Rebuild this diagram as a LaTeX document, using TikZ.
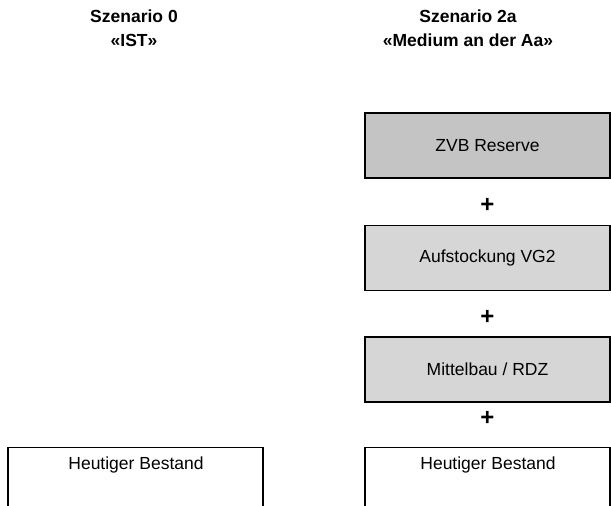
\documentclass[tikz,border=0pt]{standalone}
\usepackage{fontspec}
\setmainfont{Liberation Sans}
\usetikzlibrary{positioning}

\tikzset{
    bau/.style={draw, line width=1.1pt, minimum width=245pt, minimum height=65pt,
        inner sep=0pt, font=\fontsize{17.5}{20}\selectfont},
    bautext/.style={font=\fontsize{17.5}{20}\selectfont, anchor=base},
    titel/.style={anchor=base, font=\fontsize{17.5}{21}\selectfont\bfseries},
    plus/.style={font=\fontsize{24}{26}\selectfont\bfseries, inner sep=0pt}
}

\begin{document}
\begin{tikzpicture}[x=1pt, y=-1pt]
    \useasboundingbox (0,0) rectangle (611,506);
    \clip (0,0) rectangle (611,506);
    % Titles
    \node[titel] (titel0) at (134,22) {Szenario 0};
    \node[titel] (titel0b) at (134,46) {«IST»};
    \node[titel] (titel2a) at (468,22) {Szenario 2a};
    \node[titel] (titel2ab) at (468,46) {«Medium an der Aa»};
    % Scenario 0: existing stock only (box runs off the bottom)
    \node[bau, anchor=north, minimum width=255pt, minimum height=90pt] (bestand0) at (135.5,447) {};
    \node[bautext] (text0) at (136,469) {Heutiger Bestand};
    % Scenario 2a: stacked additions
    \node[bau, fill=black!23] (zvb) at (487.5,145.5) {ZVB Reserve};
    \node[bau, fill=black!16] (aufst) at (487.5,258) {Aufstockung VG2};
    \node[bau, fill=black!16] (mittel) at (487.5,369.5) {Mittelbau / RDZ};
    \node[bau, anchor=north, minimum height=90pt] (bestand2a) at (487.5,447) {};
    \node[bautext] (text2a) at (488,469) {Heutiger Bestand};
    % plus signs between the boxes
    \node[plus] (p1) at (487.5,205) {+};
    \node[plus] (p2) at (487.5,317) {+};
    \node[plus] (p3) at (487.5,418) {+};
\end{tikzpicture}
\end{document}
